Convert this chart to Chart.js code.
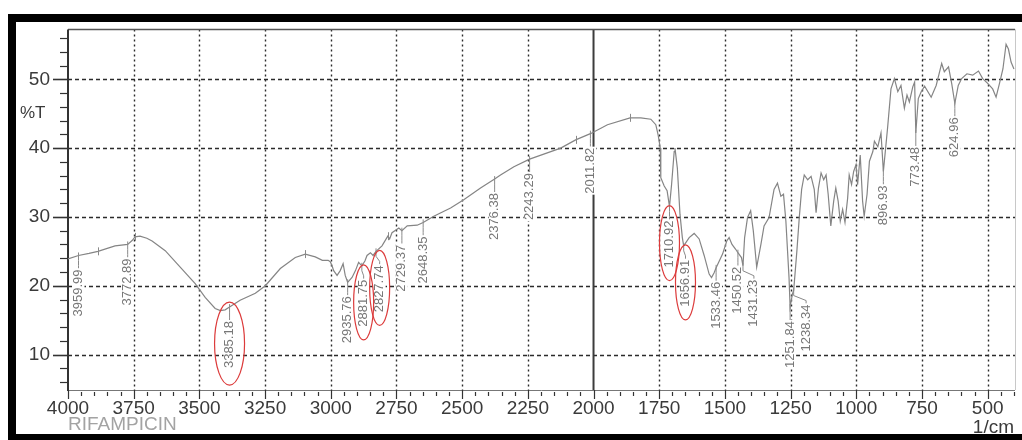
<!DOCTYPE html>
<html>
<head>
<meta charset="utf-8">
<script src="https://cdn.jsdelivr.net/npm/chart.js@4.4.1/dist/chart.umd.min.js"></script>
<style>
  html, body { margin: 0; padding: 0; background: #fff; }
  canvas { display: block; }
</style>
</head>
<body>
<canvas id="ir" width="1022" height="440"></canvas>
<script>
// FTIR spectrum of rifampicin: wavenumber (1/cm) and transmittance (%T)
const wavenumbers = [
  4000, 3959.99, 3920, 3886, 3821, 3772.89, 3755, 3745, 3726, 3700, 3680, 3630, 3573, 3516, 3478, 3440, 3420, 3402, 3385.18, 3345,
  3287, 3249, 3192, 3135, 3097, 3059, 3032, 3010, 3002, 2995, 2989, 2976, 2964, 2953, 2945, 2935.76, 2919, 2906, 2894, 2881.75,
  2870, 2862, 2849, 2839, 2827.74, 2805, 2783, 2776, 2767, 2741, 2729.37, 2709, 2671, 2648.35, 2608, 2544, 2494, 2430, 2376.38, 2354,
  2303, 2243.29, 2176, 2125, 2068, 2011.82, 1947, 1861, 1820, 1782, 1763, 1754, 1746, 1744, 1731, 1720, 1710.92, 1703, 1693, 1690,
  1681, 1671, 1662, 1656.91, 1636, 1617, 1598, 1579, 1560, 1551, 1541, 1533.46, 1509, 1493, 1484, 1473, 1459, 1450.52, 1437, 1431.23,
  1425, 1414, 1402, 1392, 1379, 1363, 1351, 1332, 1313, 1300, 1287, 1277, 1268, 1256, 1251.84, 1243, 1238.34, 1226, 1217, 1208,
  1198, 1185, 1172, 1160, 1153, 1144, 1134, 1124, 1115, 1107, 1097, 1086, 1078, 1069, 1061, 1052, 1043, 1033, 1027, 1018,
  1010, 1001, 995, 985, 976, 970, 959, 950, 937, 931, 918, 906, 896.93, 881, 868, 855, 842, 830, 817, 807,
  798, 785, 778, 773.48, 764, 753, 740, 715, 696, 675, 665, 649, 637, 624.96, 612, 599, 579, 557, 535, 519,
  500, 481, 468, 455, 442, 430, 421, 411, 400
];
const transmittance = [
  23.9, 24.4, 24.7, 25.0, 25.8, 26.0, 26.6, 27.1, 27.2, 26.9, 26.5, 25.1, 22.7, 20.3, 18.3, 16.7, 16.4, 16.5, 16.9, 17.9,
  18.9, 20.0, 22.5, 24.1, 24.6, 24.2, 23.7, 23.7, 23.5, 22.9, 22.2, 21.5, 22.2, 23.2, 21.5, 20.5, 21.2, 22.2, 23.4, 22.9,
  23.6, 24.4, 24.8, 24.4, 25.0, 25.8, 27.2, 26.8, 27.7, 28.4, 28.0, 28.7, 28.8, 29.2, 30.1, 31.3, 32.5, 34.2, 35.5, 36.1,
  37.3, 38.4, 39.3, 40.0, 41.2, 42.1, 43.4, 44.4, 44.4, 44.2, 43.4, 41.9, 40.0, 35.7, 34.5, 33.8, 31.5, 34.7, 39.5, 40.0,
  37.1, 30.4, 27.0, 25.8, 27.0, 27.6, 26.8, 24.4, 21.7, 21.2, 21.9, 22.6, 24.6, 26.5, 27.0, 26.0, 25.3, 24.8, 24.1, 22.9,
  27.0, 29.9, 30.9, 28.0, 22.7, 26.0, 28.7, 29.9, 34.0, 34.9, 33.0, 33.3, 29.4, 21.2, 16.9, 18.8, 19.3, 25.1, 29.9, 34.0,
  36.1, 35.4, 35.9, 34.0, 30.6, 34.2, 36.4, 35.4, 36.1, 33.3, 28.7, 32.3, 34.2, 32.3, 29.4, 31.1, 29.2, 32.7, 36.1, 34.7,
  36.6, 37.6, 34.7, 39.0, 32.3, 30.1, 33.3, 38.1, 39.5, 41.0, 40.2, 42.2, 36.6, 42.9, 48.6, 50.1, 48.2, 49.1, 45.8, 47.7,
  46.7, 48.9, 49.6, 42.2, 47.2, 48.2, 49.0, 47.4, 49.1, 52.3, 51.1, 51.8, 49.4, 46.5, 49.1, 50.1, 50.8, 50.6, 51.2, 50.1,
  49.4, 48.6, 47.4, 49.4, 51.5, 55.1, 54.4, 52.5, 51.5
];

// Labelled band positions (1/cm)
const peakWavenumbers = [
  3959.99, 3772.89, 3385.18, 2935.76, 2881.75, 2827.74, 2729.37, 2648.35, 2376.38, 2243.29, 2011.82,
  1710.92, 1656.91, 1533.46, 1450.52, 1431.23, 1251.84, 1238.34, 896.93, 773.48, 624.96
];
// Bands circled in red
const circledPeaks = [3385.18, 2881.75, 2827.74, 1710.92, 1656.91];
// Unlabelled marks along the trace
const markedPoints = [3886, 3745, 3097, 2783, 2068, 1861];

const xMajorTicks = [4000, 3750, 3500, 3250, 3000, 2750, 2500, 2250, 2000, 1750, 1500, 1250, 1000, 750, 500];
const yMajorTicks = [10, 20, 30, 40, 50];

const FONT = "'Liberation Sans', Arial, sans-serif";

function transmittanceAt(w) {
  for (let i = 0; i < wavenumbers.length - 1; i++) {
    const a = wavenumbers[i], b = wavenumbers[i + 1];
    if (w <= a && w >= b) {
      const t = (a - w) / ((a - b) || 1);
      return transmittance[i] + t * (transmittance[i + 1] - transmittance[i]);
    }
  }
  return transmittance[transmittance.length - 1];
}

const spectrumDecor = {
  id: 'spectrumDecor',
  beforeDraw(chart) {
    const ctx = chart.ctx;
    ctx.save();
    ctx.fillStyle = '#fff';
    ctx.fillRect(0, 0, chart.width, chart.height);
    ctx.restore();
  },
  beforeDatasetsDraw(chart) {
    const { ctx, chartArea: a, scales: { x, y } } = chart;
    ctx.save();
    ctx.strokeStyle = '#2b2b2b';
    ctx.lineWidth = 1.4;
    // horizontal dashed grid
    ctx.setLineDash([4, 3]);
    yMajorTicks.forEach(v => {
      const py = Math.round(y.getPixelForValue(v)) + 0.5;
      ctx.beginPath(); ctx.moveTo(a.left, py); ctx.lineTo(a.right, py); ctx.stroke();
    });
    // vertical dotted grid
    ctx.setLineDash([2, 3]);
    xMajorTicks.forEach(v => {
      if (v === 4000 || v === 2000) return;
      const px = Math.round(x.getPixelForValue(v)) + 0.5;
      ctx.beginPath(); ctx.moveTo(px, a.top); ctx.lineTo(px, a.bottom); ctx.stroke();
    });
    ctx.setLineDash([]);
    // solid divider at 2000
    ctx.strokeStyle = '#3c3c3c';
    ctx.lineWidth = 2;
    const p2000 = x.getPixelForValue(2000);
    ctx.beginPath(); ctx.moveTo(p2000, a.top); ctx.lineTo(p2000, a.bottom); ctx.stroke();
    // frame
    ctx.lineWidth = 1;
    ctx.strokeStyle = '#c8c8c8';
    ctx.beginPath(); ctx.moveTo(a.right + 0.5, a.top); ctx.lineTo(a.right + 0.5, a.bottom); ctx.stroke();
    ctx.strokeStyle = '#555';
    ctx.lineWidth = 1.5;
    ctx.beginPath(); ctx.moveTo(a.left, a.top); ctx.lineTo(a.right, a.top); ctx.stroke();
    ctx.strokeStyle = '#777';
    ctx.lineWidth = 1;
    ctx.beginPath(); ctx.moveTo(a.left, a.bottom + 0.5); ctx.lineTo(a.right, a.bottom + 0.5); ctx.stroke();
    ctx.strokeStyle = '#333';
    ctx.lineWidth = 2;
    ctx.beginPath(); ctx.moveTo(a.left, a.top); ctx.lineTo(a.left, a.bottom + 1); ctx.stroke();
    ctx.restore();
  },
  afterDatasetsDraw(chart) {
    const { ctx, scales: { x, y } } = chart;
    ctx.save();
    ctx.strokeStyle = '#8a8a8a';
    ctx.lineWidth = 1;
    // small marks crossing the trace
    markedPoints.forEach(w => {
      const px = Math.round(x.getPixelForValue(w)) + 0.5;
      const py = y.getPixelForValue(transmittanceAt(w));
      ctx.beginPath(); ctx.moveTo(px, py - 4); ctx.lineTo(px, py + 4); ctx.stroke();
    });

    // band labels; a label that would collide with its left neighbour is nudged right
    ctx.font = '13px ' + FONT;
    const items = peakWavenumbers.map(w => {
      const px = x.getPixelForValue(w);
      const py = y.getPixelForValue(transmittanceAt(w));
      const text = w.toFixed(2);
      return { w, text, px, py, lx: px, tw: ctx.measureText(text).width };
    }).sort((p, q) => p.px - q.px);
    const minGap = 16;
    for (let i = 1; i < items.length; i++) {
      if (items[i].lx - items[i - 1].lx < minGap) items[i].lx = items[i - 1].lx + minGap;
    }
    items.forEach((it, i) => {
      const top = it.py + 13;
      it.top = top;
      const left = i > 0 ? it.lx - items[i - 1].lx : 99;
      const right = i < items.length - 1 ? items[i + 1].lx - it.lx : 99;
      it.room = Math.min(left, right);
      ctx.strokeStyle = '#8a8a8a';
      ctx.lineWidth = 1;
      ctx.beginPath();
      ctx.moveTo(it.px, it.py - 3);
      ctx.lineTo(it.px, it.py + 5);
      ctx.lineTo(it.lx, it.py + 10);
      ctx.lineTo(it.lx, top);
      ctx.stroke();
      ctx.save();
      ctx.translate(it.lx, top + 1);
      ctx.rotate(-Math.PI / 2);
      ctx.fillStyle = '#fff';
      ctx.fillRect(-it.tw - 1, -6, it.tw + 2, 12);
      ctx.fillStyle = '#777';
      ctx.textAlign = 'right';
      ctx.textBaseline = 'middle';
      ctx.fillText(it.text, 0, 0);
      ctx.restore();
    });

    // red ellipses around highlighted bands
    ctx.strokeStyle = '#dc3b3b';
    ctx.lineWidth = 1.2;
    items.filter(it => circledPeaks.includes(it.w)).forEach(it => {
      const rx = Math.min(15, it.room / 2 + 2);
      const ry = it.tw / 2 + (rx > 12 ? 18 : 14);
      const cy = it.top + it.tw / 2;
      ctx.beginPath();
      ctx.ellipse(it.lx, cy, rx, ry, 0, 0, Math.PI * 2);
      ctx.stroke();
    });
    ctx.restore();
  },
  afterDraw(chart) {
    const { ctx, chartArea: a, scales: { x, y } } = chart;
    ctx.save();
    ctx.strokeStyle = '#333';
    ctx.lineWidth = 1.2;
    // x axis ticks every 50
    for (let v = 4000; v >= 400; v -= 50) {
      const px = Math.round(x.getPixelForValue(v)) + 0.5;
      const major = v % 250 === 0;
      ctx.beginPath();
      ctx.moveTo(px, a.bottom + (major ? 0 : 2));
      ctx.lineTo(px, a.bottom + (major ? 9 : 6));
      ctx.stroke();
    }
    // y axis ticks every 2
    for (let v = 6; v <= 56; v += 2) {
      const py = Math.round(y.getPixelForValue(v)) + 0.5;
      const major = v % 10 === 0;
      ctx.lineWidth = major ? 1.6 : 1.2;
      ctx.beginPath();
      ctx.moveTo(a.left - (major ? 15 : 8), py);
      ctx.lineTo(a.left, py);
      ctx.stroke();
    }
    // axis captions
    ctx.fillStyle = '#3a3a3a';
    ctx.textBaseline = 'alphabetic';
    ctx.font = '17px ' + FONT;
    ctx.textAlign = 'left';
    ctx.fillText('%T', 20, 118);
    ctx.font = '19px ' + FONT;
    ctx.textAlign = 'right';
    ctx.fillText('1/cm', 1014, 433);
    ctx.fillStyle = '#a3a3a3';
    ctx.textAlign = 'left';
    ctx.fillText('RIFAMPICIN', 68, 430);
    // black surround
    ctx.fillStyle = '#000';
    ctx.fillRect(8, 14, 1014, 8);
    ctx.fillRect(8, 14, 8, 426);
    ctx.fillRect(8, 434, 1014, 6);
    ctx.restore();
  }
};

new Chart(document.getElementById('ir'), {
  type: 'line',
  data: {
    datasets: [{
      label: 'RIFAMPICIN',
      data: wavenumbers.map((w, i) => ({ x: w, y: transmittance[i] })),
      borderColor: '#858585',
      borderWidth: 1.2,
      pointRadius: 0,
      tension: 0,
      fill: false
    }]
  },
  options: {
    responsive: false,
    animation: false,
    events: [],
    layout: { padding: { top: 27, right: 7, left: 0, bottom: 0 } },
    plugins: { legend: { display: false }, tooltip: { enabled: false } },
    scales: {
      x: {
        type: 'linear',
        reverse: true,
        min: 396,
        max: 4000,
        grid: { display: false, drawTicks: false },
        border: { display: false },
        afterBuildTicks: s => { s.ticks = xMajorTicks.map(v => ({ value: v })); },
        afterFit: s => { s.height = 50; },
        ticks: {
          autoSkip: false,
          maxRotation: 0,
          padding: 7,
          color: '#3a3a3a',
          font: { family: FONT, size: 19 },
          callback: v => String(v)
        }
      },
      y: {
        min: 4.85,
        max: 57.25,
        grid: { display: false, drawTicks: false },
        border: { display: false },
        afterBuildTicks: s => { s.ticks = yMajorTicks.map(v => ({ value: v })); },
        afterFit: s => { s.width = 68; },
        ticks: {
          padding: 18,
          color: '#3a3a3a',
          font: { family: FONT, size: 19 },
          callback: v => String(v)
        }
      }
    }
  },
  plugins: [spectrumDecor]
});
</script>
</body>
</html>
